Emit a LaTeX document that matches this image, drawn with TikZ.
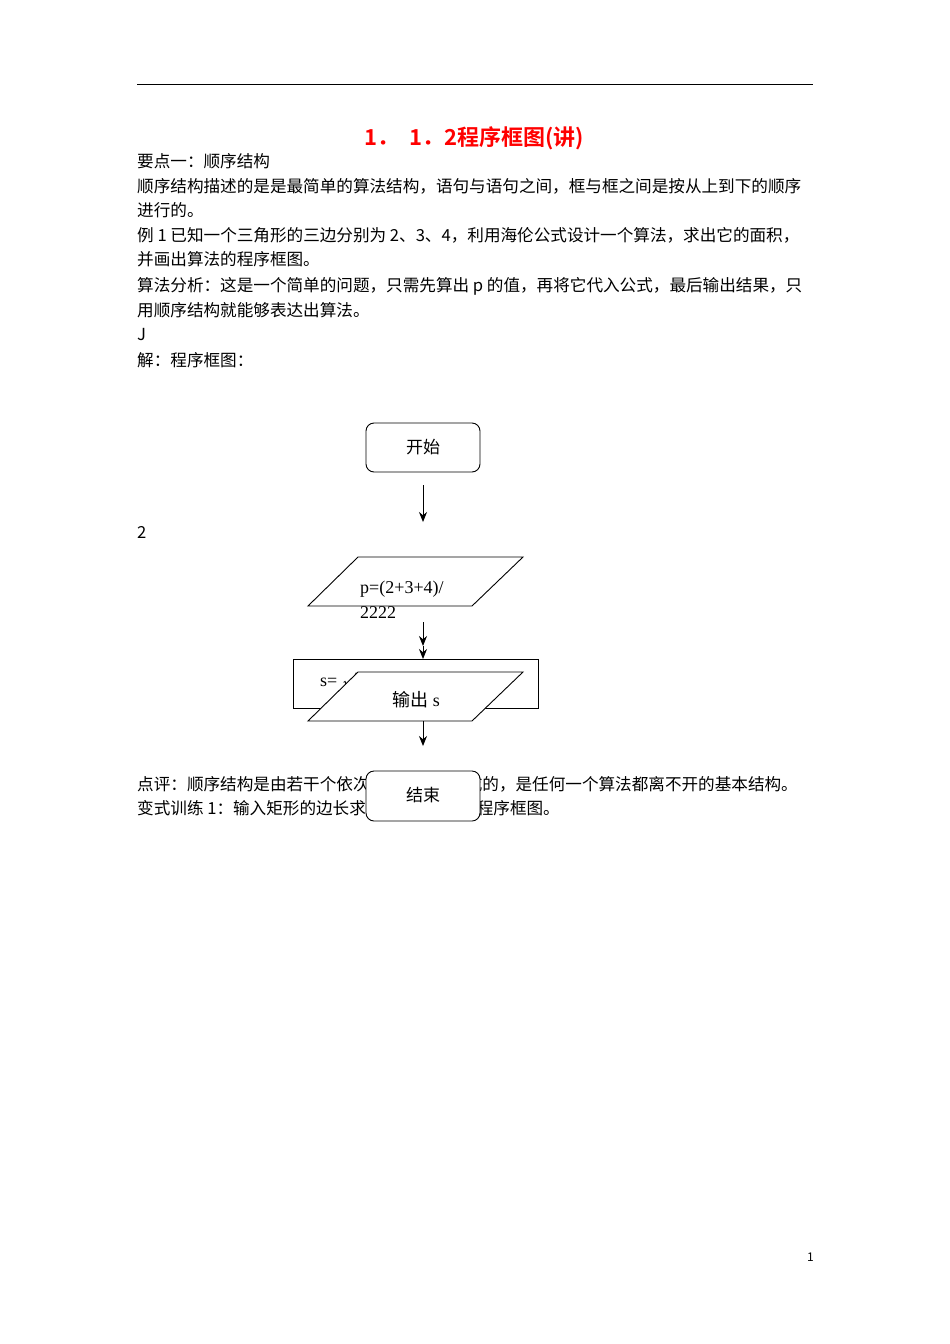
\documentclass[tikz,border=0pt]{standalone}
\usepackage{fontspec}
\setmainfont{Liberation Serif}
\newfontfamily\cjk{Noto Sans CJK SC}
\newfontfamily\cjkb{Noto Sans CJK SC Bold}
\usetikzlibrary{arrows.meta}
\begin{document}
\begin{tikzpicture}[x=1pt,y=-1pt,
  txt/.style={anchor=base west,inner sep=0pt,font=\cjk\fontsize{16.6}{18}\selectfont},
  txtr/.style={txt,anchor=base east},
  box/.style={draw,line width=0.9pt,fill=white},
  arr/.style={-{Stealth[length=10pt,width=8pt]},line width=1pt},
  lab/.style={inner sep=0pt,font=\fontsize{18}{20}\selectfont}]
\useasboundingbox (0,0) rectangle (950,1344);
\fill[white] (0,0) rectangle (950,1344);
\draw[line width=0.8pt] (137,84) -- (813,84);
\node[anchor=base,inner sep=0pt,text=red,font=\cjkb\fontsize{22}{26}\selectfont] (title) at (474,145) {1．\ \ 1．2程序框图(讲)};
\node[txt] (l1) at (137,167) {要点一：顺序结构};
\node[txt] (l2) at (137,192) {顺序结构描述的是是最简单的算法结构，语句与语句之间，框与框之间是按从上到下的顺序};
\node[txt] (l3) at (137,216) {进行的。};
\node[txt] (l4) at (137,241) {例 1 已知一个三角形的三边分别为 2、3、4，利用海伦公式设计一个算法，求出它的面积，};
\node[txt] (l5) at (137,265) {并画出算法的程序框图。};
\node[txt] (l6) at (137,291) {算法分析：这是一个简单的问题，只需先算出 p 的值，再将它代入公式，最后输出结果，只};
\node[txt] (l7) at (137,316) {用顺序结构就能够表达出算法。};
\node[txt] (l8) at (137,340) {J};
\node[txt] (l9) at (137,366) {解：程序框图：};
\node[txt] (two) at (137,538) {2};
\node[txt] (l10a) at (137,790) {点评：顺序结构是由若干个依次};
\node[txtr] (l10b) at (798,790) {成的，是任何一个算法都离不开的基本结构。};
\node[txt] (l11a) at (137,814) {变式训练 1：输入矩形的边长求};
\node[txtr] (l11b) at (560,814) {程序框图。};
\node[txt,font=\cjk\fontsize{12}{14}\selectfont] (pg) at (807,1261) {1};
% flowchart
\draw[box,rounded corners=8pt] (366,423) rectangle (480,472);
\node[lab,font=\cjk\fontsize{17}{20}\selectfont] (start) at (423,447) {开始};
\coordinate (a1) at (423,485); \coordinate (a1e) at (423,522);
\draw[arr] (a1) -- (a1e);
\draw[box] (358,557) -- (523,557) -- (472,606) -- (308,606) -- cycle;
\node[lab,anchor=base west] (p1) at (360,593) {p=(2+3+4)/};
\node[lab,anchor=base west] (p2) at (360,618) {2222};
\coordinate (a2) at (423,622); \coordinate (a2m) at (423,646); \coordinate (a2e) at (423,659);
\draw[arr] (a2) -- (a2m);
\draw[arr] (a2m) -- (a2e);
\draw[box] (293,659) rectangle (538,708);
\node[lab,anchor=base west] (s) at (320,686) {s= $\surd$};
\draw[box] (358,672) -- (523,672) -- (472,721) -- (308,721) -- cycle;
\node[lab] (out) at (416,700) {{\cjk 输出} s};
\coordinate (a3) at (423,721); \coordinate (a3e) at (423,746);
\draw[arr] (a3) -- (a3e);
\draw[box,rounded corners=8pt] (366,771) rectangle (480,821);
\node[lab,font=\cjk\fontsize{17}{20}\selectfont] (end) at (423,795) {结束};
\end{tikzpicture}
\end{document}
